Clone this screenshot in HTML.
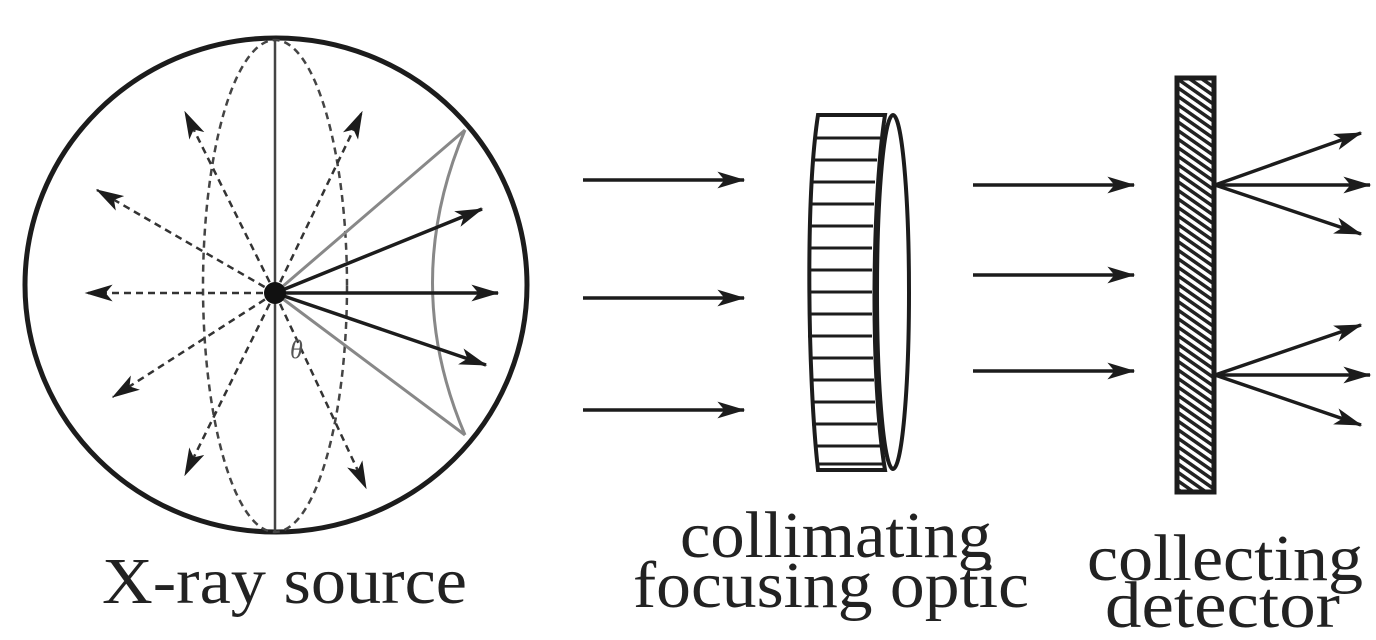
<!DOCTYPE html>
<html><head><meta charset="utf-8"><style>html,body{margin:0;padding:0;background:#fff}svg{display:block}</style></head>
<body>
<svg width="1376" height="640" viewBox="0 0 1376 640" xmlns="http://www.w3.org/2000/svg">
<defs>
<marker id="ah" viewBox="0 0 20 12" refX="19" refY="6" markerWidth="28" markerHeight="17" markerUnits="userSpaceOnUse" orient="auto">
<path d="M0,0 L20,6 L0,12 L5,6 Z" fill="#1c1c1c"/>
</marker>
<pattern id="hatch" width="7" height="7" patternUnits="userSpaceOnUse" patternTransform="rotate(-55)">
<rect width="7" height="7" fill="#fff"/><rect width="3.5" height="7" fill="#222"/>
</pattern>
</defs>
<g fill="none" stroke="#1c1c1c">
<ellipse cx="276" cy="285" rx="251" ry="247" stroke-width="5"/>
<line x1="275" y1="40" x2="275" y2="532" stroke="#444" stroke-width="2.5"/>
<ellipse cx="275" cy="286" rx="72" ry="246" stroke="#444" stroke-width="2.5" stroke-dasharray="7,5"/>
<line x1="275" y1="293" x2="465" y2="130" stroke="#888" stroke-width="3"/>
<line x1="275" y1="293" x2="465" y2="435" stroke="#888" stroke-width="3"/>
<path d="M465,130 Q400,283 465,435" stroke="#888" stroke-width="3"/>
<g stroke="#333" stroke-width="2.5" stroke-dasharray="7,5" marker-end="url(#ah)">
<line x1="275" y1="293" x2="86" y2="293"/>
<line x1="275" y1="293" x2="97" y2="190"/>
<line x1="275" y1="293" x2="113" y2="397"/>
<line x1="275" y1="293" x2="185" y2="112"/>
<line x1="275" y1="293" x2="362" y2="112"/>
<line x1="275" y1="293" x2="185" y2="475"/>
<line x1="275" y1="293" x2="366" y2="488"/>
</g>
<g stroke-width="3.5" marker-end="url(#ah)">
<line x1="275" y1="293" x2="482" y2="209"/>
<line x1="275" y1="293" x2="498" y2="293"/>
<line x1="275" y1="293" x2="486" y2="365"/>
</g>
<g stroke-width="3.5" marker-end="url(#ah)">
<line x1="583" y1="180" x2="744" y2="180"/>
<line x1="583" y1="298" x2="744" y2="298"/>
<line x1="583" y1="410" x2="744" y2="410"/>
<line x1="973" y1="185" x2="1134" y2="185"/>
<line x1="973" y1="275" x2="1134" y2="275"/>
<line x1="973" y1="371" x2="1134" y2="371"/>
<line x1="1215" y1="185" x2="1361" y2="133"/>
<line x1="1215" y1="185" x2="1370" y2="185"/>
<line x1="1215" y1="185" x2="1361" y2="234"/>
<line x1="1215" y1="375" x2="1361" y2="325"/>
<line x1="1215" y1="375" x2="1370" y2="375"/>
<line x1="1215" y1="375" x2="1361" y2="425"/>
</g>
</g>
<g stroke="#1c1c1c" stroke-width="4" fill="#fff">
<path d="M818,115 L885,115 C872,200 870,380 885,470 L818,470 C808,380 805,200 818,115 Z"/>
<ellipse cx="893" cy="292" rx="16" ry="177"/>
<g stroke-width="3" fill="none">
<line x1="814" y1="138" x2="880" y2="138"/><line x1="812" y1="160" x2="877" y2="160"/>
<line x1="811" y1="182" x2="875" y2="182"/><line x1="810" y1="204" x2="874" y2="204"/>
<line x1="809" y1="226" x2="873" y2="226"/><line x1="808" y1="248" x2="872" y2="248"/>
<line x1="808" y1="270" x2="872" y2="270"/><line x1="808" y1="292" x2="872" y2="292"/>
<line x1="808" y1="314" x2="872" y2="314"/><line x1="808" y1="336" x2="872" y2="336"/>
<line x1="809" y1="358" x2="873" y2="358"/><line x1="810" y1="380" x2="874" y2="380"/>
<line x1="811" y1="402" x2="875" y2="402"/><line x1="812" y1="424" x2="877" y2="424"/>
<line x1="814" y1="446" x2="880" y2="446"/><line x1="816" y1="464" x2="884" y2="464"/>
</g>
</g>
<rect x="1177" y="78" width="37" height="414" fill="url(#hatch)" stroke="#1c1c1c" stroke-width="5"/>
<circle cx="275" cy="293" r="11" fill="#111"/>
<g font-family="'Liberation Serif', serif" fill="#222">
<text x="290" y="358" font-size="26" font-style="italic" fill="#555">θ</text>
<text x="102" y="603" font-size="66" textLength="365" lengthAdjust="spacingAndGlyphs">X-ray source</text>
<text x="680" y="557" font-size="66" textLength="312" lengthAdjust="spacingAndGlyphs">collimating</text>
<text x="633" y="607" font-size="66" textLength="396" lengthAdjust="spacingAndGlyphs">focusing optic</text>
<text x="1087" y="580" font-size="66" textLength="276" lengthAdjust="spacingAndGlyphs">collecting</text>
<text x="1105" y="627" font-size="66" textLength="235" lengthAdjust="spacingAndGlyphs">detector</text>
</g>
</svg>
</body></html>
